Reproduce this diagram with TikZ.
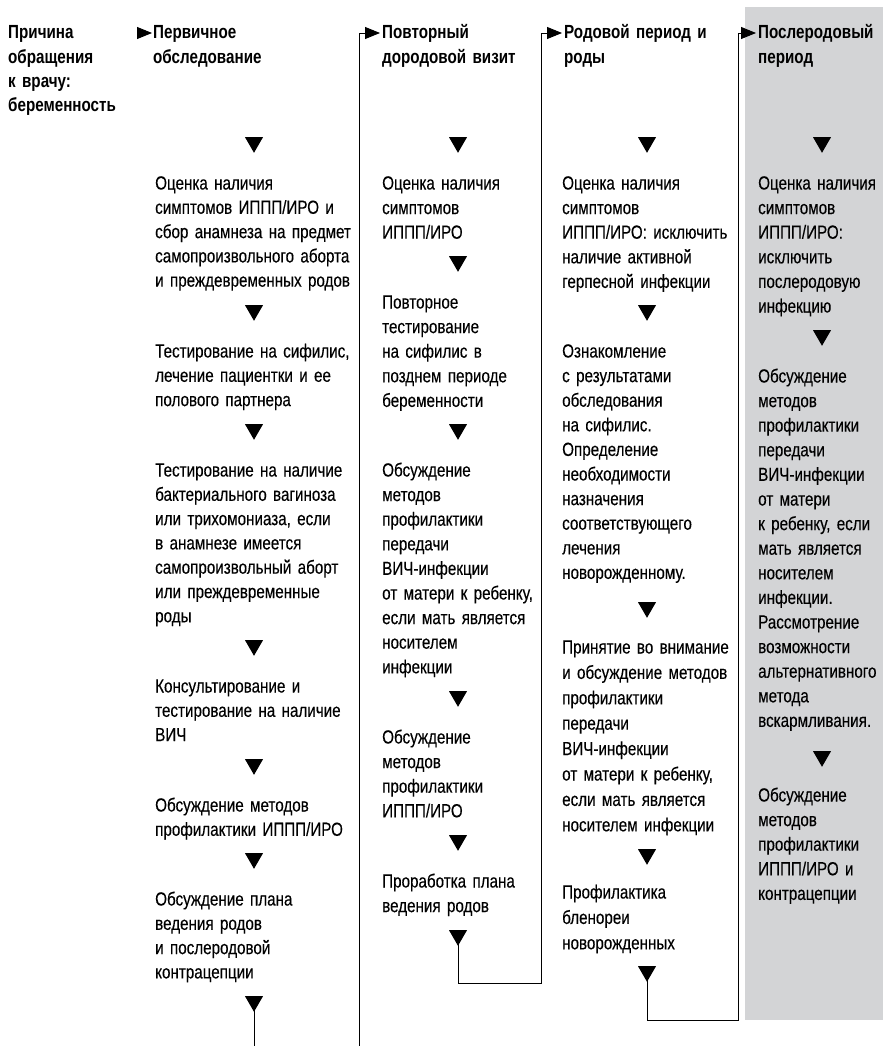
\documentclass[tikz,border=0pt]{standalone}
\usepackage{fontspec}
\setmainfont{Liberation Sans}[FakeStretch=0.80, UprightFeatures={FakeBold=0.25}]
\usetikzlibrary{arrows.meta,shapes.geometric}
\definecolor{panel}{RGB}{211,212,214}
\begin{document}
\begin{tikzpicture}[x=1pt,y=-1pt,
  txt/.style={anchor=base west, inner sep=0pt, text width=230pt, align=left, font=\fontsize{19}{#1}\selectfont},
  txt/.default=24.3,
  hdr/.style={anchor=base west, inner sep=0pt, text width=200pt, align=left, font=\fontsize{19}{24.3}\selectfont\bfseries},
  dtri/.style={regular polygon, regular polygon sides=3, shape border rotate=180, fill=black, draw=none, minimum size=20.8pt, inner sep=0pt},
  conn/.style={line width=0.9pt, draw=black},
  rtip/.style={conn, -{Triangle[length=15pt,width=12pt]}}
]
\useasboundingbox (0,0) rectangle (883,1046);
\fill[panel] (745,7) rectangle (883,1020);

% headers
\node[hdr] (h0) at (8,39) {Причина\\обращения\\к врачу:\\беременность};
\node[hdr] (h1) at (153,39) {Первичное\\обследование};
\node[hdr] (h2) at (382,39) {Повторный\\дородовой визит};
\node[hdr] (h3) at (564,39) {Родовой период и\\роды};
\node[hdr] (h4) at (758,39) {Послеродовый\\период};

\coordinate (s1) at (137,33);
\coordinate (a1) at (152,33);
\coordinate (a2) at (380,33);
\coordinate (a3) at (562,33);
\coordinate (a4) at (756,33);
\coordinate (c2b) at (359,1046);
\coordinate (c2t) at (359,33);
\coordinate (c3b) at (541,983);
\coordinate (c3t) at (541,33);
\coordinate (c4b) at (738,1020);
\coordinate (c4t) at (738,33);
\coordinate (e1) at (254,1046);

% column 1
\node[dtri] (t11) at (254,142.4) {};
\node[txt] (b11) at (155,189.5) {Оценка наличия\\симптомов ИППП/ИРО и\\сбор анамнеза на предмет\\самопроизвольного аборта\\и преждевременных родов};
\node[dtri] (t12) at (254,310.4) {};
\node[txt] (b12) at (155,357.5) {Тестирование на сифилис,\\лечение пациентки и ее\\полового партнера};
\node[dtri] (t13) at (254,429.4) {};
\node[txt] (b13) at (155,476.5) {Тестирование на наличие\\бактериального вагиноза\\или трихомониаза, если\\в анамнезе имеется\\самопроизвольный аборт\\или преждевременные\\роды};
\node[dtri] (t14) at (254,645.4) {};
\node[txt] (b14) at (155,692.5) {Консультирование и\\тестирование на наличие\\ВИЧ};
\node[dtri] (t15) at (254,764.4) {};
\node[txt] (b15) at (155,811.5) {Обсуждение методов\\профилактики ИППП/ИРО};
\node[dtri] (t16) at (254,858.4) {};
\node[txt] (b16) at (155,905.5) {Обсуждение плана\\ведения родов\\и послеродовой\\контрацепции};
\node[dtri] (t17) at (254,1001.4) {};

% column 2
\node[dtri] (t21) at (458,142.4) {};
\node[txt=24.6] (b21) at (382,189.5) {Оценка наличия\\симптомов\\ИППП/ИРО};
\node[dtri] (t22) at (458,261.4) {};
\node[txt=24.6] (b22) at (382,308.5) {Повторное\\тестирование\\на сифилис в\\позднем периоде\\беременности};
\node[dtri] (t23) at (458,429.4) {};
\node[txt=24.6] (b23) at (382,476.5) {Обсуждение\\методов\\профилактики\\передачи\\ВИЧ-инфекции\\от матери к ребенку,\\если мать является\\носителем\\инфекции};
\node[dtri] (t24) at (458,696.4) {};
\node[txt=24.6] (b24) at (382,743.5) {Обсуждение\\методов\\профилактики\\ИППП/ИРО};
\node[dtri] (t25) at (458,840.4) {};
\node[txt=24.6] (b25) at (382,887.5) {Проработка плана\\ведения родов};
\node[dtri] (t26) at (458,935.4) {};

% column 3
\node[dtri] (t31) at (647,142.4) {};
\node[txt=24.6] (b31) at (562,189.5) {Оценка наличия\\симптомов\\ИППП/ИРО: исключить\\наличие активной\\герпесной инфекции};
\node[dtri] (t32) at (647,310.4) {};
\node[txt=24.6] (b32) at (562,357.5) {Ознакомление\\с результатами\\обследования\\на сифилис.\\Определение\\необходимости\\назначения\\соответствующего\\лечения\\новорожденному.};
\node[dtri] (t33) at (647,607.4) {};
\node[txt=25.4] (b33) at (562,653.5) {Принятие во внимание\\и обсуждение методов\\профилактики\\передачи\\ВИЧ-инфекции\\от матери к ребенку,\\если мать является\\носителем инфекции};
\node[dtri] (t34) at (647,854.4) {};
\node[txt=25.4] (b34) at (562,898.5) {Профилактика\\бленореи\\новорожденных};
\node[dtri] (t35) at (647,971.4) {};

% column 4
\node[dtri] (t41) at (822,142.4) {};
\node[txt=24.6] (b41) at (758,189.5) {Оценка наличия\\симптомов\\ИППП/ИРО:\\исключить\\послеродовую\\инфекцию};
\node[dtri] (t42) at (822,335.4) {};
\node[txt=24.6] (b42) at (758,382.5) {Обсуждение\\методов\\профилактики\\передачи\\ВИЧ-инфекции\\от матери\\к ребенку, если\\мать является\\носителем\\инфекции.\\Рассмотрение\\возможности\\альтернативного\\метода\\вскармливания.};
\node[dtri] (t43) at (822,756.4) {};
\node[txt=24.6] (b43) at (758,801.5) {Обсуждение\\методов\\профилактики\\ИППП/ИРО и\\контрацепции};

% connectors
\draw[rtip] (s1) -- (a1);
\draw[conn] (t17.center) -- (e1);
\draw[rtip] (c2b) -- (c2t) -- (a2);
\draw[rtip] (t26.center) |- (c3b) -- (c3t) -- (a3);
\draw[rtip] (t35.center) |- (c4b) -- (c4t) -- (a4);
\end{tikzpicture}
\end{document}
